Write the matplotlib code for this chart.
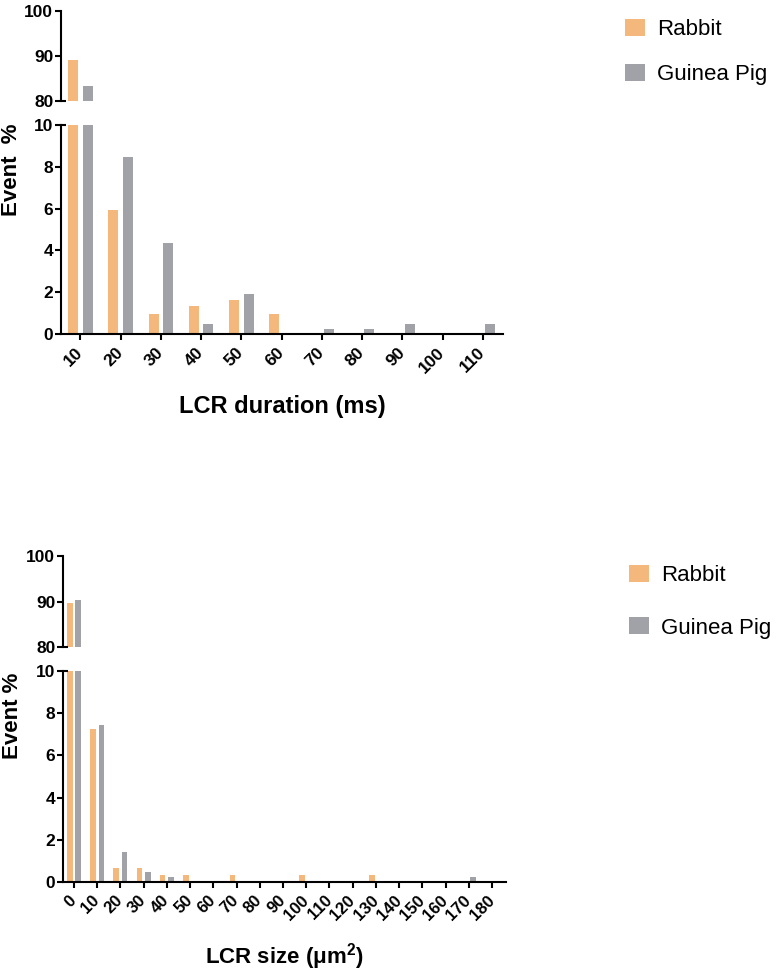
import matplotlib
matplotlib.use('Agg')
import matplotlib.pyplot as plt
import numpy as np

plt.rcParams['font.family'] = ['Liberation Sans', 'DejaVu Sans']
plt.rcParams['mathtext.fontset'] = 'custom'
plt.rcParams['mathtext.rm'] = 'Liberation Sans:bold'
plt.rcParams['mathtext.bf'] = 'Liberation Sans:bold'

# data
duration_bins = [10, 20, 30, 40, 50, 60, 70, 80, 90, 100, 110]
duration_rabbit = [89.1, 5.93, 0.97, 1.32, 1.64, 0.97, 0, 0, 0, 0, 0]
duration_guinea = [83.3, 8.48, 4.35, 0.48, 1.91, 0, 0.24, 0.24, 0.48, 0, 0.48]

size_bins = list(range(0, 181, 10))
size_rabbit = [89.7, 7.26, 0.66, 0.66, 0.33, 0.33, 0, 0.33, 0, 0, 0.33,
               0, 0, 0.33, 0, 0, 0, 0, 0]
size_guinea = [90.3, 7.42, 1.44, 0.46, 0.24, 0, 0, 0, 0, 0, 0,
               0, 0, 0, 0, 0, 0, 0.24, 0]

series_names = ['Rabbit', 'Guinea Pig']
series_colors = ['#F4B77C', '#A1A2A7']

W, H = 777, 973
fig = plt.figure(figsize=(W / 100, H / 100), dpi=100)


def px_axes(x0, x1, y0, y1):
    # pixel box (top-left origin) -> figure axes
    return fig.add_axes([x0 / W, 1 - y1 / H, (x1 - x0) / W, (y1 - y0) / H])


def style(ax):
    for s in ['top', 'right']:
        ax.spines[s].set_visible(False)
    for s in ['left', 'bottom']:
        ax.spines[s].set_linewidth(1.5)
    ax.tick_params(axis='both', width=1.5, length=4.5, direction='out')
    ax.tick_params(axis='y', pad=1, labelsize=12.5)
    for lab in ax.get_yticklabels():
        lab.set_fontweight('bold')


def stub(ax, y):
    ax.plot([0, 0.011], [y, y], color='black', lw=1.5,
            transform=ax.get_yaxis_transform(), clip_on=False,
            solid_capstyle='butt')


def broken_chart(box_top, box_low, bins, rab, gp, xlim, width, xlabel,
                 ylabel, label_y, xlab_fs, label_fs):
    ax_hi = px_axes(*box_top)
    ax_lo = px_axes(*box_low)
    x = np.array(bins, dtype=float)
    off = 1.8
    for ax in (ax_hi, ax_lo):
        ax.bar(x - off, rab, width, color=series_colors[0], label=series_names[0])
        ax.bar(x + off, gp, width, color=series_colors[1], label=series_names[1])
        ax.set_xlim(*xlim)
    ax_hi.set_ylim(80, 100)
    ax_hi.set_yticks([80, 90, 100])
    ax_lo.set_ylim(0, 10)
    ax_lo.set_yticks([0, 2, 4, 6, 8, 10])
    style(ax_hi)
    style(ax_lo)
    ax_hi.spines['bottom'].set_visible(False)
    ax_hi.tick_params(axis='x', bottom=False, labelbottom=False)
    stub(ax_hi, 80)
    stub(ax_lo, 10)

    ax_lo.set_xticks(bins)
    ax_lo.set_xticklabels([str(b) for b in bins], rotation=45, ha='right',
                          va='center', rotation_mode='anchor',
                          fontsize=xlab_fs, fontweight='bold')
    ax_lo.tick_params(axis='x', pad=7)

    x0, x1 = box_low[0], box_low[1]
    fig.text((x0 + x1) / 2 / W, 1 - label_y / H, xlabel, fontsize=label_fs,
             fontweight='bold', ha='center', va='center')
    yc = (box_top[2] + box_low[3]) / 2 - 3
    fig.text(12 / W, 1 - yc / H, ylabel, fontsize=16, fontweight='bold',
             rotation=90, ha='center', va='center')
    return ax_hi


ax1 = broken_chart((61, 503, 11, 101), (61, 503, 125, 334),
                   duration_bins, duration_rabbit, duration_guinea,
                   (5.2, 115), 2.5, 'LCR duration (ms)', 'Event  %', 406, 12.5, 17)

ax2 = broken_chart((63, 506, 556, 647), (63, 506, 671, 882),
                   size_bins, size_rabbit, size_guinea,
                   (-4.7, 186), 2.4, 'LCR size (μm$^2$)', 'Event %', 957, 12, 16)

h1, l1 = ax1.get_legend_handles_labels()
fig.legend(h1, l1, loc='upper left', bbox_to_anchor=(625 / W, 1 - 19 / H),
           frameon=False, fontsize=16, handlelength=0.9, handleheight=0.8,
           handletextpad=0.55, labelspacing=1.05, borderpad=0, borderaxespad=0)
h2, l2 = ax2.get_legend_handles_labels()
fig.legend(h2, l2, loc='upper left', bbox_to_anchor=(629 / W, 1 - 565 / H),
           frameon=False, fontsize=16, handlelength=0.9, handleheight=0.8,
           handletextpad=0.55, labelspacing=1.4, borderpad=0, borderaxespad=0)

fig.savefig('out.png', dpi=100)
plt.close(fig)
